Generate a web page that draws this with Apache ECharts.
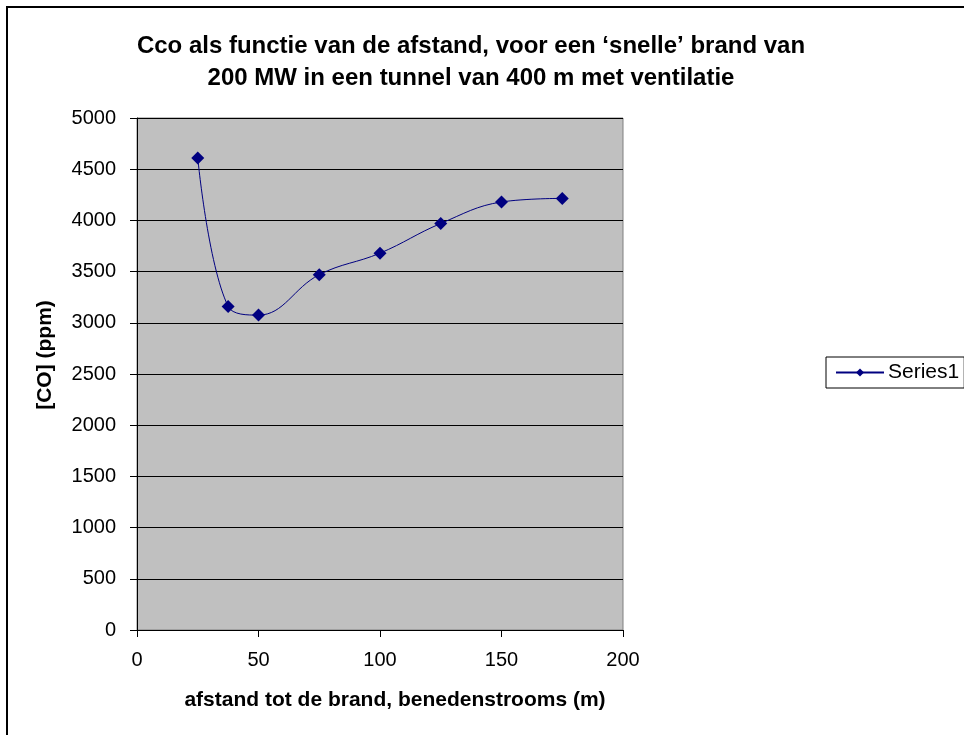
<!DOCTYPE html>
<html>
<head>
<meta charset="utf-8">
<script src="https://cdn.jsdelivr.net/npm/echarts@6/dist/echarts.min.js"></script>
<style>
  html, body { margin: 0; padding: 0; background: #ffffff; }
  #chart { width: 964px; height: 735px; }
</style>
</head>
<body>
<div id="chart"></div>
<script>
// Distance downstream of the fire (m) and CO concentration (ppm)
const distances = [25, 37.5, 50, 75, 100, 125, 150, 175];
const coValues = [4610, 3160, 3075, 3470, 3680, 3970, 4180, 4215];
const seriesName = 'Series1';

const titleLines = [
  'Cco als functie van de afstand, voor een \u2018snelle\u2019 brand van',
  '200 MW in een tunnel van 400 m met ventilatie'
];
const xAxisTitle = 'afstand tot de brand, benedenstrooms (m)';
const yAxisTitle = '[CO] (ppm)';

const FONT = 'Liberation Sans, Arial, sans-serif';

const chart = echarts.init(document.getElementById('chart'), null, { renderer: 'canvas' });

const points = distances.map((d, i) => [d, coValues[i]]);

chart.setOption({
  backgroundColor: '#ffffff',
  animation: false,
  textStyle: { fontFamily: FONT, color: '#000' },
  title: {
    text: titleLines.join('\n'),
    left: 466,
    top: 25,
    textAlign: 'center',
    textStyle: {
      fontFamily: FONT, fontWeight: 'bold', fontSize: 24, lineHeight: 32, color: '#000'
    }
  },
  legend: {
    data: [seriesName],
    left: 826,
    top: 357,
    orient: 'vertical',
    itemWidth: 48,
    itemHeight: 10,
    itemGap: 0,
    padding: [5, 5, 5, 9],
    borderColor: '#000',
    borderWidth: 1,
    borderRadius: 0,
    textStyle: { fontFamily: FONT, fontSize: 21, color: '#000', padding: [0, 0, 0, -1] }
  },
  grid: {
    left: 137,
    right: 341,
    top: 118,
    bottom: 105,
    show: true,
    backgroundColor: '#c0c0c0',
    borderColor: '#808080',
    borderWidth: 1,
    containLabel: false
  },
  xAxis: {
    type: 'value',
    min: 0,
    max: 200,
    interval: 50,
    axisLine: { onZero: false, lineStyle: { color: '#000', width: 1 } },
    axisTick: { show: true, inside: false, length: 7, lineStyle: { color: '#000' } },
    axisLabel: { margin: 20, fontFamily: FONT, fontSize: 20, color: '#000' },
    splitLine: { show: false }
  },
  yAxis: {
    type: 'value',
    min: 0,
    max: 5000,
    interval: 500,
    axisLine: { show: true, lineStyle: { color: '#000', width: 1 } },
    axisTick: { show: true, inside: false, length: 7, lineStyle: { color: '#000' } },
    axisLabel: {
      margin: 21, fontFamily: FONT, fontSize: 20, color: '#000',
      formatter: (v) => String(v)
    },
    splitLine: { show: true, lineStyle: { color: '#000', width: 1 } }
  },
  graphic: [
    {
      type: 'rect',
      shape: { x: 7, y: 7, width: 990, height: 760 },
      style: { fill: null, stroke: '#000', lineWidth: 2 },
      silent: true,
      z: 0
    },
    {
      type: 'text',
      x: 395,
      y: 700,
      style: {
        text: xAxisTitle,
        fontFamily: FONT, fontWeight: 'bold', fontSize: 21, fill: '#000',
        textAlign: 'center', textVerticalAlign: 'middle'
      }
    },
    {
      type: 'text',
      x: 45,
      y: 355,
      rotation: Math.PI / 2,
      style: {
        text: yAxisTitle,
        fontFamily: FONT, fontWeight: 'bold', fontSize: 21, fill: '#000',
        textAlign: 'center', textVerticalAlign: 'middle'
      }
    }
  ],
  series: [
    {
      name: seriesName,
      type: 'line',
      data: points,
      smooth: 0.4,
      symbol: 'diamond',
      symbolSize: 13,
      itemStyle: { color: '#000080' },
      lineStyle: { color: '#000080', width: 1 },
      z: 5
    }
  ]
});
</script>
</body>
</html>
